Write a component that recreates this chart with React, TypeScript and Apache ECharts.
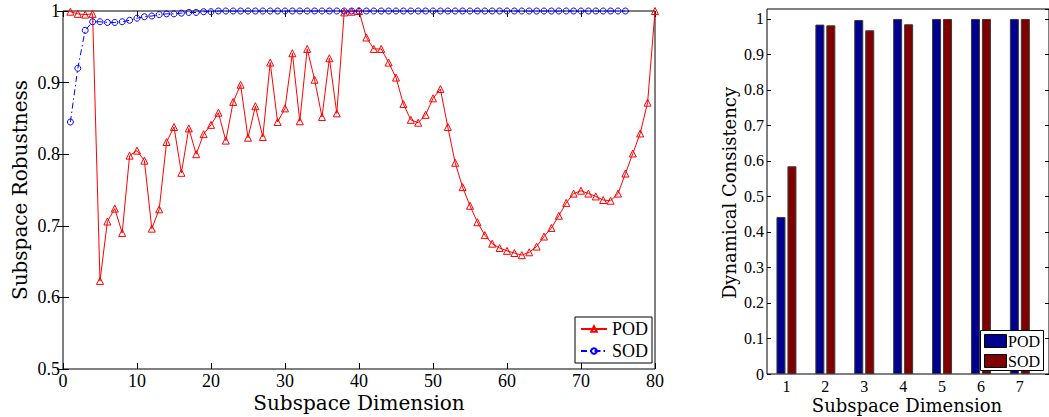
import React, { useEffect, useRef } from "react";
import * as echarts from "echarts";

// Left chart: subspace robustness vs subspace dimension
const POD_ROBUST = [
  0.999, 0.996, 0.995, 0.996, 0.623, 0.706, 0.724, 0.69, 0.798, 0.805,
  0.791, 0.696, 0.723, 0.817, 0.838, 0.774, 0.836, 0.8, 0.828, 0.841,
  0.858, 0.819, 0.873, 0.897, 0.823, 0.867, 0.824, 0.928, 0.845, 0.864,
  0.941, 0.846, 0.947, 0.904, 0.852, 0.934, 0.857, 0.998, 0.999, 1.0,
  0.963, 0.947, 0.947, 0.928, 0.907, 0.87, 0.848, 0.844, 0.855, 0.878,
  0.891, 0.838, 0.788, 0.754, 0.728, 0.705, 0.687, 0.675, 0.669, 0.665,
  0.662, 0.659, 0.663, 0.671, 0.685, 0.697, 0.714, 0.732, 0.745, 0.749,
  0.745, 0.741, 0.736, 0.735, 0.745, 0.773, 0.801, 0.829, 0.872, 1.0,
];
const SOD_ROBUST = [
  0.845, 0.92, 0.973, 0.985, 0.985, 0.984, 0.984, 0.985, 0.987, 0.99,
  0.992, 0.993, 0.995, 0.996, 0.996, 0.997, 0.998, 0.998, 0.999, 0.999,
  1.0, 1.0, 1.0, 1.0, 1.0, 1.0, 1.0, 1.0, 1.0, 1.0,
  1.0, 1.0, 1.0, 1.0, 1.0, 1.0, 1.0, 1.0, 1.0, 1.0,
  1.0, 1.0, 1.0, 1.0, 1.0, 1.0, 1.0, 1.0, 1.0, 1.0,
  1.0, 1.0, 1.0, 1.0, 1.0, 1.0, 1.0, 1.0, 1.0, 1.0,
  1.0, 1.0, 1.0, 1.0, 1.0, 1.0, 1.0, 1.0, 1.0, 1.0,
  1.0, 1.0, 1.0, 1.0, 1.0, 1.0,
];

// Right chart: dynamical consistency
const BAR_CATEGORIES = ["1", "2", "3", "4", "5", "6", "7"];
const POD_CONSIST = [0.442, 0.984, 0.997, 1.0, 1.0, 1.0, 1.0];
const SOD_CONSIST = [0.585, 0.982, 0.968, 0.985, 1.0, 1.0, 1.0];

const SERIF = '"Liberation Serif", "Times New Roman", serif';
const TITLE_FONT = '"DejaVu Serif", serif';

export default function App() {
  const ref = useRef<HTMLDivElement>(null);

  useEffect(() => {
    if (!ref.current) return;
    const chart = echarts.init(ref.current, undefined, { renderer: "svg" });

    const tickStyle = { color: "#000", width: 1 };
    const leftLabel = { fontFamily: SERIF, fontSize: 18, color: "#000" };
    const rightLabel = { fontFamily: SERIF, fontSize: 16, color: "#000" };

    const option: any = {
      animation: false,
      backgroundColor: "#fff",
      textStyle: { fontFamily: SERIF },
      grid: [
        { left: 63, top: 11, width: 592, height: 358, show: true, borderColor: "#000", borderWidth: 1 },
        { left: 767, top: 9, width: 284, height: 365, show: true, borderColor: "#000", borderWidth: 1 },
        { left: 767, top: 9, width: 272.3, height: 365 },
      ],
      xAxis: [
        {
          gridIndex: 0, type: "value", min: 0, max: 80, interval: 10, position: "bottom",
          axisLine: { show: false },
          axisTick: { inside: true, length: 6, lineStyle: tickStyle },
          axisLabel: { margin: 3, ...leftLabel },
          splitLine: { show: false },
        },
        {
          gridIndex: 0, type: "value", min: 0, max: 80, interval: 10, position: "top",
          axisLine: { show: false },
          axisTick: { inside: true, length: 6, lineStyle: tickStyle },
          axisLabel: { show: false },
          splitLine: { show: false },
        },
        { gridIndex: 1, type: "value", min: 0, max: 1, show: false },
        {
          gridIndex: 2, type: "category", data: BAR_CATEGORIES, position: "bottom",
          axisLine: { show: false },
          axisTick: { inside: true, length: 4, alignWithLabel: true, lineStyle: tickStyle },
          axisLabel: { margin: 4, ...rightLabel },
          splitLine: { show: false },
        },
        {
          gridIndex: 2, type: "category", data: BAR_CATEGORIES, position: "top",
          axisLine: { show: false },
          axisTick: { inside: true, length: 4, alignWithLabel: true, lineStyle: tickStyle },
          axisLabel: { show: false },
          splitLine: { show: false },
        },
      ],
      yAxis: [
        {
          gridIndex: 0, type: "value", min: 0.5, max: 1, interval: 0.1, position: "left",
          axisLine: { show: false },
          axisTick: { inside: true, length: 6, lineStyle: tickStyle },
          axisLabel: { margin: 3, ...leftLabel },
          splitLine: { show: false },
        },
        {
          gridIndex: 0, type: "value", min: 0.5, max: 1, interval: 0.1, position: "right",
          axisLine: { show: false },
          axisTick: { inside: true, length: 6, lineStyle: tickStyle },
          axisLabel: { show: false },
          splitLine: { show: false },
        },
        {
          gridIndex: 1, type: "value", min: 0, max: 1.028, interval: 0.1, position: "left",
          axisLine: { show: false },
          axisTick: { inside: true, length: 4, lineStyle: tickStyle },
          axisLabel: { margin: 3, showMaxLabel: false, ...rightLabel },
          splitLine: { show: false },
        },
        {
          gridIndex: 1, type: "value", min: 0, max: 1.028, interval: 0.1, position: "right",
          axisLine: { show: false },
          axisTick: { inside: true, length: 4, lineStyle: tickStyle },
          axisLabel: { show: false },
          splitLine: { show: false },
        },
        { gridIndex: 2, type: "value", min: 0, max: 1.028, show: false },
      ],
      legend: {
        data: ["POD", "SOD"],
        orient: "vertical",
        left: 575,
        top: 317,
        padding: [3, 4, 3, 5],
        itemGap: 4,
        itemWidth: 26,
        itemHeight: 7,
        borderColor: "#000",
        borderWidth: 1,
        borderRadius: 0,
        backgroundColor: "#fff",
        selectedMode: false,
        textStyle: { fontFamily: SERIF, fontSize: 18, color: "#000" },
      },
      series: [
        {
          name: "POD", type: "line", xAxisIndex: 0, yAxisIndex: 0,
          data: POD_ROBUST.map((v, i) => [i + 1, v]),
          symbol: "triangle", symbolSize: 7, showAllSymbol: true,
          lineStyle: { color: "#ff0000", width: 1 },
          itemStyle: { color: "rgba(0,0,0,0)", borderColor: "#ff0000", borderWidth: 1 },
        },
        {
          name: "SOD", type: "line", xAxisIndex: 0, yAxisIndex: 0,
          data: SOD_ROBUST.map((v, i) => [i + 1, v]),
          symbol: "circle", symbolSize: 6, showAllSymbol: true,
          lineStyle: { color: "#0000ff", width: 1, type: [6, 3, 1.5, 3] },
          itemStyle: { color: "rgba(0,0,0,0)", borderColor: "#0000ff", borderWidth: 1 },
        },
        {
          name: "POD", type: "bar", xAxisIndex: 3, yAxisIndex: 4,
          data: POD_CONSIST, barWidth: 9, barGap: "22%",
          itemStyle: { color: "#00008f", borderColor: "#3a3a3a", borderWidth: 1 },
        },
        {
          name: "SOD", type: "bar", xAxisIndex: 3, yAxisIndex: 4,
          data: SOD_CONSIST, barWidth: 9, barGap: "22%",
          itemStyle: { color: "#800000", borderColor: "#3a3a3a", borderWidth: 1 },
        },
      ],
      graphic: [
        {
          type: "text", x: 359, y: 403, z: 100,
          style: { text: "Subspace Dimension", font: `20px ${TITLE_FONT}`, fill: "#000", align: "center", verticalAlign: "middle" },
        },
        {
          type: "text", x: 20, y: 190, rotation: Math.PI / 2, z: 100,
          style: { text: "Subspace Robustness", font: `20px ${TITLE_FONT}`, fill: "#000", align: "center", verticalAlign: "middle" },
        },
        {
          type: "text", x: 907, y: 405, z: 100,
          style: { text: "Subspace Dimension", font: `18px ${TITLE_FONT}`, fill: "#000", align: "center", verticalAlign: "middle" },
        },
        {
          type: "text", x: 729, y: 193, rotation: Math.PI / 2, z: 100,
          style: { text: "Dynamical Consistency", font: `18px ${TITLE_FONT}`, fill: "#000", align: "center", verticalAlign: "middle" },
        },
        {
          type: "group", z: 100,
          children: [
            { type: "rect", z: 100, shape: { x: 980.5, y: 330.5, width: 63, height: 40 }, style: { fill: "#fff", stroke: "#000", lineWidth: 1 } },
            { type: "rect", z: 101, shape: { x: 984.5, y: 334.5, width: 22, height: 13 }, style: { fill: "#00008f", stroke: "#000", lineWidth: 1 } },
            { type: "rect", z: 101, shape: { x: 984.5, y: 354.5, width: 22, height: 13 }, style: { fill: "#800000", stroke: "#000", lineWidth: 1 } },
            { type: "text", z: 101, x: 1008, y: 341, style: { text: "POD", font: `16px ${SERIF}`, fill: "#000", align: "left", verticalAlign: "middle" } },
            { type: "text", z: 101, x: 1008, y: 361, style: { text: "SOD", font: `16px ${SERIF}`, fill: "#000", align: "left", verticalAlign: "middle" } },
          ],
        },
      ],
    };

    chart.setOption(option);
    return () => chart.dispose();
  }, []);

  return (
    <div
      ref={ref}
      style={{ position: "absolute", left: 0, top: 0, width: 1049, height: 417, background: "#fff" }}
    />
  );
}
